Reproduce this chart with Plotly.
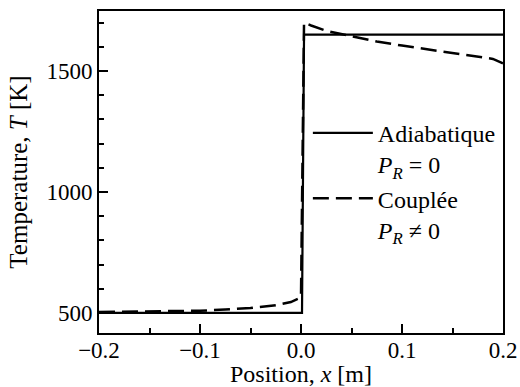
import plotly.graph_objects as go

# Data
x_adiab = [-0.2, 0.001, 0.003, 0.2]
T_adiab = [500, 500, 1650, 1650]

x_coupled = [-0.2, -0.15, -0.12, -0.1, -0.075, -0.05, -0.025, -0.01, -0.002, 0.0,
             0.003, 0.01, 0.025, 0.05, 0.075, 0.1, 0.125, 0.15, 0.175, 0.19, 0.2]
T_coupled = [504, 505, 506, 509, 514, 520, 532, 545, 560, 566,
             1700, 1688, 1666, 1643, 1622, 1605, 1590, 1576, 1561, 1550, 1532]

x_ticks = [-0.2, -0.1, 0.0, 0.1, 0.2]
y_ticks = [500, 1000, 1500]

FONT = "Liberation Serif, Times New Roman, serif"

fig = go.Figure()
fig.add_trace(go.Scatter(
    x=x_adiab, y=T_adiab, mode="lines",
    name="Adiabatique<br><i>P</i><sub><i>R</i></sub> = 0",
    line=dict(color="black", width=2.2),
))
fig.add_trace(go.Scatter(
    x=x_coupled, y=T_coupled, mode="lines",
    name="Couplée<br><i>P</i><sub><i>R</i></sub> ≠ 0",
    line=dict(color="black", width=2.5, dash="16px,7px"),
))

axis_common = dict(
    showgrid=False, zeroline=False, automargin=False,
    showline=True, linecolor="black", linewidth=2, mirror=True,
    ticks="inside", ticklen=9, tickwidth=2, tickcolor="black",
    tickfont=dict(family=FONT, size=23, color="black"),
)

fig.update_xaxes(
    range=[-0.2, 0.2], tickvals=x_ticks, tickformat=".1f",
    ticklabelstandoff=-5,
    minor=dict(ticks="inside", dtick=0.05, ticklen=5, tickwidth=1.5, tickcolor="black"),
    title=dict(text="Position, <i>x</i> [m]", font=dict(family=FONT, size=24, color="black"), standoff=1),
    **axis_common,
)
fig.update_yaxes(
    range=[417, 1748], tickvals=y_ticks,
    minor=dict(ticks="inside", dtick=100, tick0=0, ticklen=5, tickwidth=1.5, tickcolor="black"),
    title=dict(text="Temperature, <i>T</i> [K]", font=dict(family=FONT, size=25, color="black"), standoff=12),
    **axis_common,
)

fig.update_layout(
    template="none",
    width=520, height=387,
    margin=dict(l=99, r=17, t=11, b=54, autoexpand=False),
    plot_bgcolor="white", paper_bgcolor="white",
    font=dict(family=FONT, size=23, color="black"),
    showlegend=True,
    legend=dict(
        x=0.517, y=0.69, xanchor="left", yanchor="top",
        bgcolor="rgba(0,0,0,0)", borderwidth=0,
        valign="top", tracegroupgap=0, itemwidth=60,
        font=dict(family=FONT, size=24, color="black"),
    ),
)

fig.write_html(
    "out.html",
    config={"displayModeBar": False},
    post_script="document.body.style.margin='0';document.body.style.overflow='hidden';",
)
